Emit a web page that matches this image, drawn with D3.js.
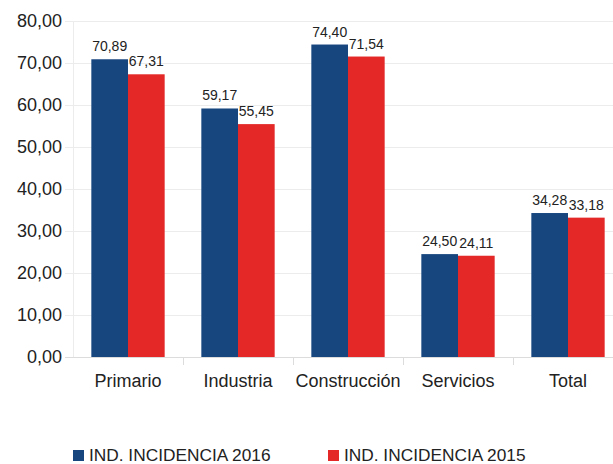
<!DOCTYPE html>
<html>
<head>
<meta charset="utf-8">
<script src="https://cdn.jsdelivr.net/npm/d3@7"></script>
<style>
  body { margin: 0; background: #fff; }
  svg { display: block; font-family: "Liberation Sans", Arial, sans-serif; }
</style>
</head>
<body>
<div id="chart"></div>
<script>
const categories = ["Primario", "Industria", "Construcción", "Servicios", "Total"];
const seriesNames = ["IND. INCIDENCIA 2016", "IND. INCIDENCIA 2015"];
const values2016 = [70.89, 59.17, 74.40, 24.50, 34.28];
const values2015 = [67.31, 55.45, 71.54, 24.11, 33.18];
const yTicks = [0, 10, 20, 30, 40, 50, 60, 70, 80];
const colors = ["#17467f", "#e42727"];

const width = 613, height = 464;
const margin = { top: 21, left: 73, bottom: 107 };

const svg = d3.select("#chart").append("svg")
  .attr("width", width).attr("height", height);

const x = d3.scaleBand().domain(categories).range([margin.left, 623]).paddingInner(0).paddingOuter(0);
const y = d3.scaleLinear().domain([0, 80]).range([height - margin.bottom, margin.top]);
const xs = d3.scaleBand().domain(seriesNames).range([0, x.bandwidth()]).paddingOuter(0.5).paddingInner(0);

const fmt = (v) => d3.format(".2f")(v).replace(".", ",");

// gridlines
svg.append("g").selectAll("line").data(yTicks).join("line")
  .attr("x1", margin.left - 8).attr("x2", width)
  .attr("y1", (d) => y(d) + 0.5).attr("y2", (d) => y(d) + 0.5)
  .attr("stroke", (d) => (d === 0 ? "#dcdcdc" : "#ececec"));

// left axis line
svg.append("line")
  .attr("x1", margin.left + 0.5).attr("x2", margin.left + 0.5)
  .attr("y1", y(80)).attr("y2", y(0))
  .attr("stroke", "#ececec");

// category separators
svg.append("g").selectAll("line").data(categories.slice(1)).join("line")
  .attr("x1", (d) => Math.round(x(d)) + 0.5).attr("x2", (d) => Math.round(x(d)) + 0.5)
  .attr("y1", y(0)).attr("y2", y(0) + 8)
  .attr("stroke", "#dcdcdc");

// y tick labels
svg.append("g").selectAll("text").data(yTicks).join("text")
  .attr("x", margin.left - 11).attr("y", (d) => y(d))
  .attr("dy", "0.36em")
  .attr("text-anchor", "end")
  .attr("font-size", 18).attr("fill", "#222")
  .text((d) => fmt(d));

// category labels
svg.append("g").selectAll("text").data(categories).join("text")
  .attr("x", (d) => x(d) + x.bandwidth() / 2)
  .attr("y", y(0) + 30)
  .attr("text-anchor", "middle")
  .attr("font-size", 18).attr("fill", "#222")
  .text((d) => d);

const rows = categories.map((c, i) => ({ cat: c, vals: [values2016[i], values2015[i]] }));

const groups = svg.append("g").selectAll("g").data(rows).join("g")
  .attr("transform", (d) => `translate(${x(d.cat)},0)`);

const bars = groups.selectAll("g").data((d) => d.vals.map((v, j) => ({ v, s: seriesNames[j], j })))
  .join("g");

bars.append("rect")
  .attr("x", (d) => xs(d.s))
  .attr("y", (d) => y(d.v))
  .attr("width", xs.bandwidth())
  .attr("height", (d) => y(0) - y(d.v))
  .attr("fill", (d) => colors[d.j]);

bars.append("text")
  .attr("x", (d) => xs(d.s) + xs.bandwidth() / 2)
  .attr("y", (d) => y(d.v) - 8)
  .attr("text-anchor", "middle")
  .attr("font-size", 14).attr("fill", "#222")
  .text((d) => fmt(d.v));

// legend
const legendX = [73, 328];
const legend = svg.append("g").selectAll("g").data(seriesNames).join("g")
  .attr("transform", (d, i) => `translate(${legendX[i]},450)`);
legend.append("rect").attr("width", 11).attr("height", 11)
  .attr("fill", (d, i) => colors[i]);
legend.append("text").attr("x", 16).attr("y", 11)
  .attr("font-size", 17.3).attr("fill", "#222")
  .text((d) => d);
</script>
</body>
</html>
